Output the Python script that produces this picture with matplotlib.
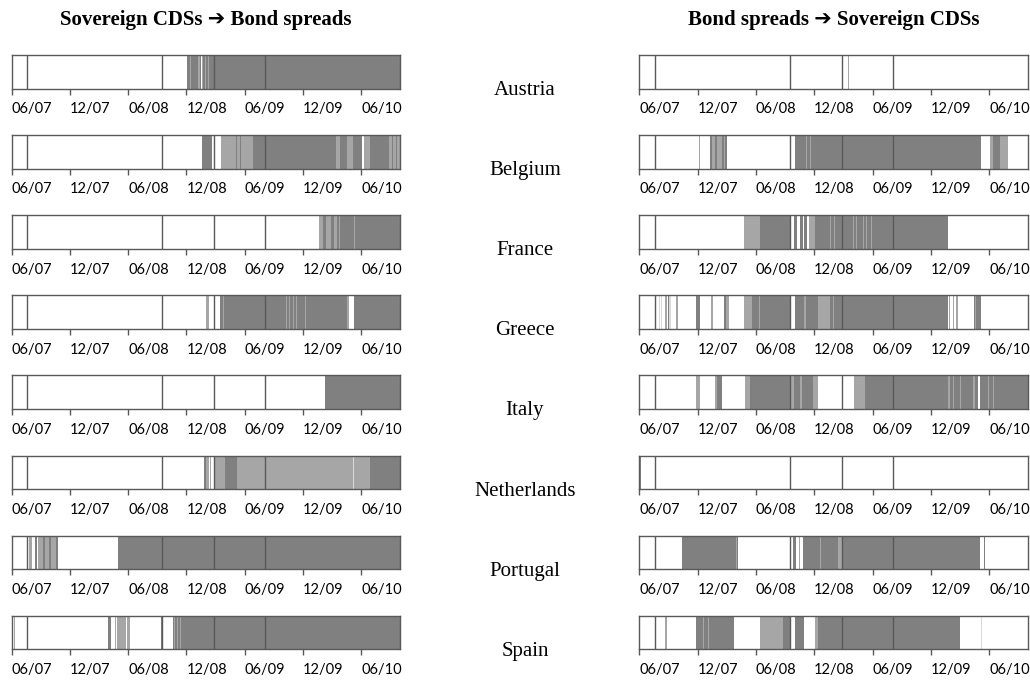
import matplotlib.pyplot as plt

# x axis in months since 06/2007
tick_pos = [0, 6, 12, 18, 24, 30, 36]
tick_labels = ["06/07", "12/07", "06/08", "12/08", "06/09", "12/09", "06/10"]
x_end = 40
event_months = [1.6, 15.5, 20.85, 26.1]

countries = ["Austria", "Belgium", "France", "Greece", "Italy", "Netherlands", "Portugal", "Spain"]

# segments: (start month, end month, shade) -- d dark, l light, v very light, w white
# Sovereign CDSs -> Bond spreads
cds_bond = {
    "Austria": [(18.1, 40, "d"), (18.35, 18.45, "l"), (19.2, 19.4, "l"), (19.45, 19.6, "w"),
                (19.6, 19.7, "l"), (19.9, 20.0, "l"), (20.2, 20.3, "l"), (20.5, 20.55, "l")],
    "Belgium": [(19.65, 20.6, "d"), (21.6, 24.9, "l"), (23.1, 23.25, "d"), (23.5, 23.6, "d"),
                (24.9, 40, "d"), (33.4, 33.8, "l"), (34.5, 35.2, "l"), (36.1, 36.3, "w"),
                (36.3, 36.9, "l"), (38.9, 40, "l"), (39.2, 39.3, "d"), (39.6, 39.7, "d")],
    "France": [(31.7, 40, "d"), (31.7, 32.1, "l"), (32.4, 32.9, "l"), (33.2, 33.5, "l"),
               (33.7, 33.8, "l"), (35.3, 35.4, "l")],
    "Greece": [(20.0, 20.3, "l"), (21.5, 34.5, "d"), (21.8, 21.85, "l"), (23.2, 23.25, "l"),
               (23.6, 23.65, "l"), (27.3, 27.35, "l"), (27.6, 27.65, "l"), (27.9, 27.95, "l"),
               (28.3, 28.35, "l"), (28.6, 28.65, "l"), (29.0, 29.05, "l"), (29.3, 29.35, "l"),
               (30.2, 30.35, "l"), (31.4, 31.45, "l"), (34.5, 34.7, "l"), (35.3, 40, "d")],
    "Italy": [(32.3, 40, "d")],
    "Netherlands": [(19.8, 20.0, "d"), (20.0, 20.35, "l"), (20.45, 20.55, "l"), (20.85, 21.95, "l"),
                    (21.95, 23.2, "d"), (23.2, 36.9, "l"), (35.15, 35.25, "v"), (36.9, 40, "d")],
    "Portugal": [(1.8, 2.1, "l"), (2.4, 2.6, "d"), (2.7, 4.8, "l"), (3.2, 3.4, "d"),
                 (3.8, 4.0, "d"), (4.6, 4.8, "d"), (11.0, 40, "d")],
    "Spain": [(0.2, 0.35, "l"), (9.9, 10.2, "d"), (10.6, 12.2, "l"), (10.75, 10.85, "w"),
              (11.8, 11.9, "w"), (15.4, 15.6, "d"), (16.6, 17.8, "d"), (16.7, 16.8, "l"),
              (17.0, 17.1, "l"), (17.3, 17.4, "l"), (17.8, 40, "d")],
}

# Bond spreads -> Sovereign CDSs
bond_cds = {
    "Austria": [(21.45, 21.55, "l")],
    "Belgium": [(6.15, 6.25, "l"), (7.3, 7.45, "d"), (7.45, 7.8, "l"), (7.8, 7.95, "d"),
                (7.95, 8.5, "l"), (8.5, 9.05, "d"), (8.7, 8.8, "l"), (16.0, 35.2, "d"),
                (17.2, 17.3, "l"), (17.6, 17.7, "l"), (36.1, 36.4, "l"), (36.4, 37.1, "d"),
                (37.1, 37.9, "l")],
    "France": [(10.8, 12.4, "l"), (12.4, 15.5, "d"), (15.9, 16.2, "d"), (16.5, 16.8, "d"),
               (17.0, 17.3, "d"), (17.5, 18.1, "l"), (18.1, 31.8, "d"), (19.6, 19.7, "l"),
               (20.0, 20.1, "l"), (20.5, 20.6, "l"), (22.0, 22.1, "l"), (22.35, 22.45, "l"),
               (23.0, 23.1, "l"), (23.35, 23.45, "l"), (23.85, 23.95, "l")],
    "Greece": [(2.0, 2.1, "v"), (2.2, 2.3, "v"), (2.65, 2.85, "l"), (3.0, 3.05, "d"),
               (3.1, 3.3, "v"), (3.8, 4.0, "l"), (5.8, 6.2, "d"), (7.4, 7.55, "l"),
               (8.7, 8.9, "d"), (8.9, 9.25, "l"), (10.8, 11.6, "l"), (11.6, 15.5, "d"),
               (11.9, 11.95, "l"), (12.35, 12.4, "l"), (12.8, 12.85, "l"), (13.1, 13.15, "l"),
               (13.45, 13.5, "l"), (16.0, 31.8, "d"), (16.5, 16.55, "l"), (17.0, 17.2, "l"),
               (18.4, 19.6, "l"), (18.8, 18.85, "d"), (19.2, 19.25, "d"), (19.95, 20.0, "l"),
               (31.9, 32.0, "l"), (32.3, 32.4, "l"), (32.6, 32.8, "l"), (34.4, 35.2, "d"),
               (34.55, 34.65, "l")],
    "Italy": [(5.8, 6.2, "l"), (7.8, 8.0, "l"), (8.0, 8.5, "d"), (10.9, 11.4, "l"),
              (11.4, 15.5, "d"), (15.6, 15.95, "l"), (15.95, 16.5, "d"), (16.5, 16.7, "l"),
              (16.7, 17.9, "d"), (17.9, 18.4, "l"), (22.1, 23.2, "l"), (23.2, 40, "d"),
              (31.8, 31.95, "l"), (32.3, 32.4, "l"), (33.0, 33.15, "l"), (34.35, 34.5, "l"),
              (34.9, 35.05, "w"), (35.9, 36.0, "l"), (36.4, 36.5, "l")],
    "Netherlands": [(0.1, 0.2, "d")],
    "Portugal": [(4.4, 10.2, "d"), (10.0, 10.1, "l"), (15.8, 16.1, "d"), (16.4, 16.5, "l"),
                 (16.8, 35.1, "d"), (18.6, 18.7, "l"), (20.4, 20.9, "l"), (35.5, 35.6, "d")],
    "Spain": [(2.6, 2.9, "l"), (5.8, 9.7, "d"), (6.2, 6.25, "l"), (6.6, 6.65, "l"),
              (7.1, 7.15, "l"), (8.3, 8.35, "l"), (9.3, 9.35, "l"), (9.6, 9.65, "l"),
              (12.4, 14.8, "l"), (14.8, 15.5, "d"), (16.0, 16.9, "d"), (16.5, 16.55, "l"),
              (18.1, 18.4, "l"), (18.4, 33.0, "d"), (35.2, 35.3, "v")],
}

shades = {"d": "#808080", "l": "#a6a6a6", "v": "#d9d9d9", "w": "white"}
edge = "#595959"

W, H = 1030, 680
fig = plt.figure(figsize=(W / 100, H / 100), dpi=100)

serif = ["Liberation Serif", "DejaVu Sans"]


def draw_strip(ax, segs):
    for a, b, s in segs:
        ax.axvspan(a, b, color=shades[s], lw=0)
    for m in event_months:
        ax.axvline(m, color=edge, lw=1)
    ax.set_xlim(0, x_end)
    ax.set_ylim(0, 1)
    ax.set_yticks([])
    ax.set_xticks(tick_pos)
    ax.set_xticklabels(tick_labels, fontfamily="Lato", fontsize=10.5)
    for lab in ax.get_xticklabels():
        lab.set_horizontalalignment("left")
    ax.tick_params(axis="x", direction="out", length=4, width=1, color=edge, pad=6)
    for sp in ax.spines.values():
        sp.set_color(edge)
        sp.set_linewidth(1)


strip_h = 33.5
for i, c in enumerate(countries):
    top = 55 + 80.1 * i
    y0 = 1 - (top + strip_h) / H
    axl = fig.add_axes([11.7 / W, y0, (400 - 11.7) / W, strip_h / H])
    draw_strip(axl, cds_bond[c])
    axr = fig.add_axes([639.3 / W, y0, (1028 - 639.3) / W, strip_h / H])
    draw_strip(axr, bond_cds[c])
    fig.text(525 / W, 1 - (top + strip_h + 2) / H, c, ha="center", va="center",
             fontsize=15, family=serif)

fig.text(206 / W, 1 - 20 / H, "Sovereign CDSs \u2794 Bond spreads", ha="center", va="center",
         fontsize=15, fontweight="bold", family=serif)
fig.text(834 / W, 1 - 20 / H, "Bond spreads \u2794 Sovereign CDSs", ha="center", va="center",
         fontsize=15, fontweight="bold", family=serif)

fig.savefig("out.png", dpi=100)
